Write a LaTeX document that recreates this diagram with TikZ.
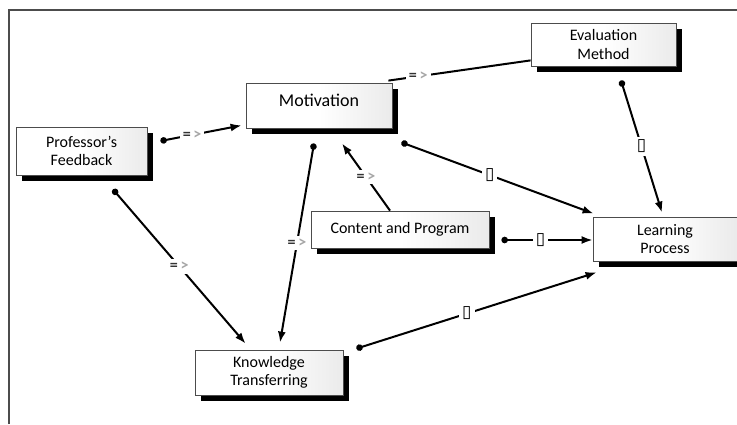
\documentclass[tikz,border=0pt]{standalone}
\usepackage{fontspec}
\setmainfont{Carlito}
\newfontfamily\symfont{DejaVu Sans}
\usetikzlibrary{arrows.meta,shadows}
\tikzset{font=\fontsize{16}{18}\selectfont}
\tikzset{box/.style={draw=black!70, line width=0.8pt, align=center,
    text=black, inner sep=2pt, left color=white, right color=black!8, middle color=white,
    drop shadow={shadow xshift=6pt, shadow yshift=-6pt, fill=black, opacity=1}}}
\tikzset{link/.style={line width=2pt, {Circle[length=6.5pt]}-{Latex[length=11pt,width=8pt]}}}
\tikzset{lbl/.style={fill=white, inner sep=3pt, font=\fontsize{16}{16}\selectfont\bfseries}}
\newcommand{\impl}{\textcolor{black!80}{=}\,\textcolor{black!35}{>}}
\newcommand{\tofu}{{\symfont\fontsize{17}{17}\selectfont ▯}}

\begin{document}
\begin{tikzpicture}[x=1pt,y=-1pt]
  \useasboundingbox (0,0) rectangle (737,424);
  \draw[black!70, line width=1.2pt] (9,424) -- (9,10) -- (737,10);

  \node[box, minimum width=131, minimum height=48] (fb) at (81.5,151) {Professor’s\\Feedback};
  \node[box, minimum width=146, minimum height=45, text depth=10pt, font=\fontsize{18}{20}\selectfont] (mot) at (319,105.5) {Motivation};
  \node[box, minimum width=145, minimum height=43] (eval) at (603.5,44.5) {Evaluation\\Method};
  \node[box, minimum width=178, minimum height=37] (cont) at (400,229.5) {Content and Program};
  \node[box, minimum width=144, minimum height=44] (learn) at (665,239) {Learning\\Process};
  \node[box, minimum width=148, minimum height=45] (know) at (269,372.5) {Knowledge\\Transferring};

  \draw[link] ([xshift=13,yshift=10]fb.east) -- node[lbl,pos=.39]{\impl} ([xshift=-4,yshift=3]mot.south west);
  \draw[line width=2pt] ([xshift=-4,yshift=2]mot.north east) -- node[lbl,pos=.21]{\impl} ([yshift=6]eval.south west);
  \draw[link] ([xshift=17.5,yshift=-14]eval.south) -- node[lbl,pos=.5]{\tofu} ([xshift=-3,yshift=4]learn.north);
  \draw[link] ([xshift=9,yshift=-14]mot.south east) -- node[lbl,pos=.46]{\tofu} ([xshift=1,yshift=3]learn.north west);
  \draw[link, {}-{Latex[length=11pt,width=8pt]}] ([xshift=-10]cont.north) -- node[lbl,pos=.5]{\impl} ([xshift=23,yshift=-15]mot.south);
  \draw[link] ([xshift=12,yshift=-10.5]cont.east) -- node[lbl,pos=.43]{\tofu} ([yshift=-1]learn.west);
  \draw[link] ([xshift=-5,yshift=-15]mot.south) -- node[lbl,pos=.5]{\impl} ([xshift=11,yshift=7]know.north);
  \draw[link] ([xshift=31.5,yshift=-14]fb.south) -- node[lbl,pos=.5]{\impl} ([xshift=51,yshift=6]know.north west);
  \draw[link] ([xshift=13,yshift=1]know.north east) -- node[lbl,pos=.46]{\tofu} ([xshift=4,yshift=-11]learn.south west);

\end{tikzpicture}
\end{document}
